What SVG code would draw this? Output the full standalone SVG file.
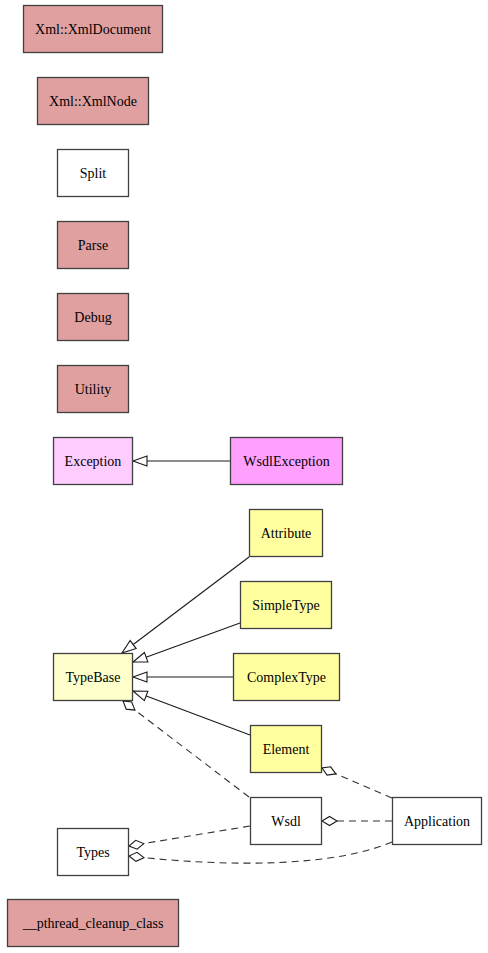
<svg xmlns="http://www.w3.org/2000/svg" width="488" height="953" viewBox="0 0 488 953">
<style>
.n rect{stroke:#404040;stroke-width:1.3}
.n text{font-family:'Liberation Serif','Times New Roman','DejaVu Serif',serif;font-size:14px;text-anchor:middle;fill:#000}
.red{fill:#e0a0a0}.wht{fill:#fff}.ylw{fill:#ffffa0}.lyl{fill:#ffffcc}.pnk{fill:#ffccff}.mag{fill:#ffa0ff}
.e{fill:none;stroke:#1a1a1a;stroke-width:1.1}
.d{fill:none;stroke:#333;stroke-width:1.1;stroke-dasharray:7,5}
.inh{marker-end:url(#tri)}
.agg{marker-end:url(#dia)}
</style>
<defs>
<marker id="tri" markerUnits="userSpaceOnUse" markerWidth="18" markerHeight="14" refX="15" refY="7" orient="auto">
<path d="M1,2 L15,7 L1,12 z" fill="#fff" stroke="#1a1a1a" stroke-width="1.1"/>
</marker>
<marker id="dia" markerUnits="userSpaceOnUse" markerWidth="18" markerHeight="14" refX="16" refY="7" orient="auto">
<path d="M1,7 L8.5,2.5 L16,7 L8.5,11.5 z" fill="#fff" stroke="#1a1a1a" stroke-width="1.1"/>
</marker>
</defs>
<g id="edges">
<path class="e inh" d="M230,461 L133,461"/>
<path class="e inh" d="M249,557 L122,653"/>
<path class="e inh" d="M240,623 L133,662"/>
<path class="e inh" d="M233,677 L133,677"/>
<path class="e inh" d="M250,735 L133,691"/>
<path class="d agg" d="M249,797 L123,701"/>
<path class="d agg" d="M392,798 L322,768"/>
<path class="d agg" d="M392,821 L322,821"/>
<path class="d agg" d="M250,826 L129,846"/>
<path class="d agg" d="M392,842 C335,866 235,868 129,856"/>
</g>
<g id="Xml_XmlDocument" class="n"><rect class="red" x="23.5" y="5.5" width="139" height="47"/><text x="93" y="34" font-family="Liberation Serif">Xml::XmlDocument</text></g>
<g id="Xml_XmlNode" class="n"><rect class="red" x="37.5" y="77.5" width="111" height="47"/><text x="93" y="106">Xml::XmlNode</text></g>
<g id="Split" class="n"><rect class="wht" x="57.5" y="149.5" width="71" height="47"/><text x="93" y="178">Split</text></g>
<g id="Parse" class="n"><rect class="red" x="57.5" y="221.5" width="71" height="47"/><text x="93" y="250">Parse</text></g>
<g id="Debug" class="n"><rect class="red" x="57.5" y="293.5" width="71" height="47"/><text x="93" y="322">Debug</text></g>
<g id="Utility" class="n"><rect class="red" x="57.5" y="365.5" width="71" height="47"/><text x="93" y="394">Utility</text></g>
<g id="Exception" class="n"><rect class="pnk" x="53.5" y="437.5" width="79" height="47"/><text x="93" y="466">Exception</text></g>
<g id="WsdlException" class="n"><rect class="mag" x="230.5" y="437.5" width="112" height="47"/><text x="286.5" y="466">WsdlException</text></g>
<g id="Attribute" class="n"><rect class="ylw" x="249.5" y="509.5" width="73" height="47"/><text x="286" y="538">Attribute</text></g>
<g id="SimpleType" class="n"><rect class="ylw" x="240.5" y="581.5" width="91" height="47"/><text x="286" y="610">SimpleType</text></g>
<g id="TypeBase" class="n"><rect class="lyl" x="53.5" y="653.5" width="79" height="47"/><text x="93" y="682">TypeBase</text></g>
<g id="ComplexType" class="n"><rect class="ylw" x="233.5" y="653.5" width="106" height="47"/><text x="286.5" y="682">ComplexType</text></g>
<g id="Element" class="n"><rect class="ylw" x="250.5" y="725.5" width="71" height="47"/><text x="286" y="754">Element</text></g>
<g id="Wsdl" class="n"><rect class="wht" x="250.5" y="797.5" width="71" height="47"/><text x="286" y="826">Wsdl</text></g>
<g id="Application" class="n"><rect class="wht" x="392.5" y="797.5" width="89" height="47"/><text x="437" y="826">Application</text></g>
<g id="Types" class="n"><rect class="wht" x="57.5" y="828.5" width="71" height="47"/><text x="93" y="857">Types</text></g>
<g id="pthread_cleanup_class" class="n"><rect class="red" x="7.5" y="899.5" width="171" height="47"/><text x="93" y="928">__pthread_cleanup_class</text></g>
</svg>
